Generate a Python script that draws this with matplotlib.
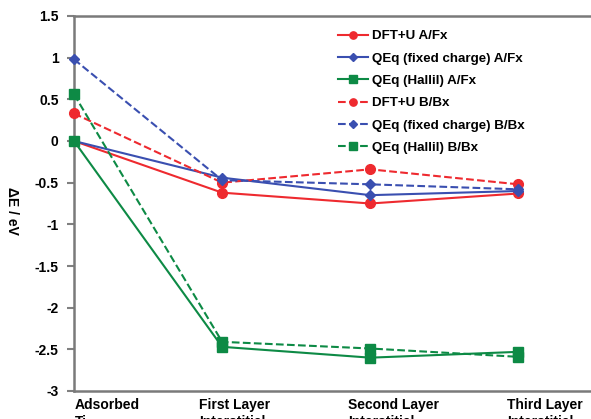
import matplotlib.pyplot as plt
from matplotlib.transforms import ScaledTranslation

plt.rcParams['font.family'] = ['Liberation Sans', 'DejaVu Sans']
plt.rcParams['font.weight'] = 'bold'

sites = ['Adsorbed\nTi', 'First Layer\nInterstitial', 'Second Layer\nInterstitial', 'Third Layer\nInterstitial']
label_shift = [0.01, -0.23, -0.22, -0.11]  # inches, nudge each site label

dft_a = [0.0, -0.62, -0.75, -0.63]
qeq_fixed_a = [0.0, -0.44, -0.65, -0.60]
qeq_hallil_a = [0.0, -2.47, -2.60, -2.53]
dft_b = [0.33, -0.50, -0.34, -0.52]
qeq_fixed_b = [0.98, -0.47, -0.52, -0.58]
qeq_hallil_b = [0.56, -2.41, -2.49, -2.59]

red = '#ee2a2f'
blue = '#3a4fb0'
green = '#0d8a45'

fig = plt.figure(figsize=(5.91, 4.19), dpi=100)
ax = fig.add_axes([74 / 591, 1 - 391 / 419, 1 - 74 / 591, 375 / 419])

x = range(len(sites))
style = dict(lw=1.5, clip_on=False, zorder=3)
ax.plot(x, dft_a, '-', color=red, marker='o', ms=7, label='DFT+U A/Fx', **style)
ax.plot(x, qeq_fixed_a, '-', color=blue, marker='D', ms=5, label='QEq (fixed charge) A/Fx', **style)
ax.plot(x, qeq_hallil_a, '-', color=green, marker='s', ms=7, label='QEq (Hallil) A/Fx', **style)
ax.plot(x, dft_b, '--', color=red, marker='o', ms=7, label='DFT+U B/Bx', **style)
ax.plot(x, qeq_fixed_b, '--', color=blue, marker='D', ms=5, label='QEq (fixed charge) B/Bx', **style)
ax.plot(x, qeq_hallil_b, '--', color=green, marker='s', ms=7, label='QEq (Hallil) B/Bx', **style)

ax.set_xlim(0, 3.49)
ax.set_ylim(-3, 1.5)
ax.set_yticks([1.5, 1, 0.5, 0, -0.5, -1, -1.5, -2, -2.5, -3])
ax.set_yticklabels(['1.5', '1', '0.5', '0', '-0.5', '-1', '-1.5', '-2', '-2.5', '-3'])
ax.set_xticks([])

# site names under the axis, left-aligned near each position
trans = ax.get_xaxis_transform()
for i, (name, dx) in enumerate(zip(sites, label_shift)):
    ax.text(i, 0, name, transform=trans + ScaledTranslation(dx, -0.07, fig.dpi_scale_trans),
            ha='left', va='top', fontsize=10, fontweight='bold', linespacing=1.3, clip_on=False)

ax.tick_params(axis='y', length=5, width=1.5, color='#808080', labelsize=10, pad=6, direction='out')

for side in ['left', 'bottom', 'top']:
    ax.spines[side].set_color('#7a7a7a')
    ax.spines[side].set_linewidth(1.8)
ax.spines['right'].set_visible(False)

ax.set_ylabel('ΔE / eV', fontsize=10, fontweight='bold', rotation=270, va='center')
ax.yaxis.set_label_coords(-0.12, 0.48)

ax.legend(loc='upper left', bbox_to_anchor=(0.487, 0.995), frameon=False,
          fontsize=9.6, labelspacing=0.75, handlelength=2.3, handletextpad=0.3,
          markerscale=0.75)

fig.savefig('out.png', dpi=100)
